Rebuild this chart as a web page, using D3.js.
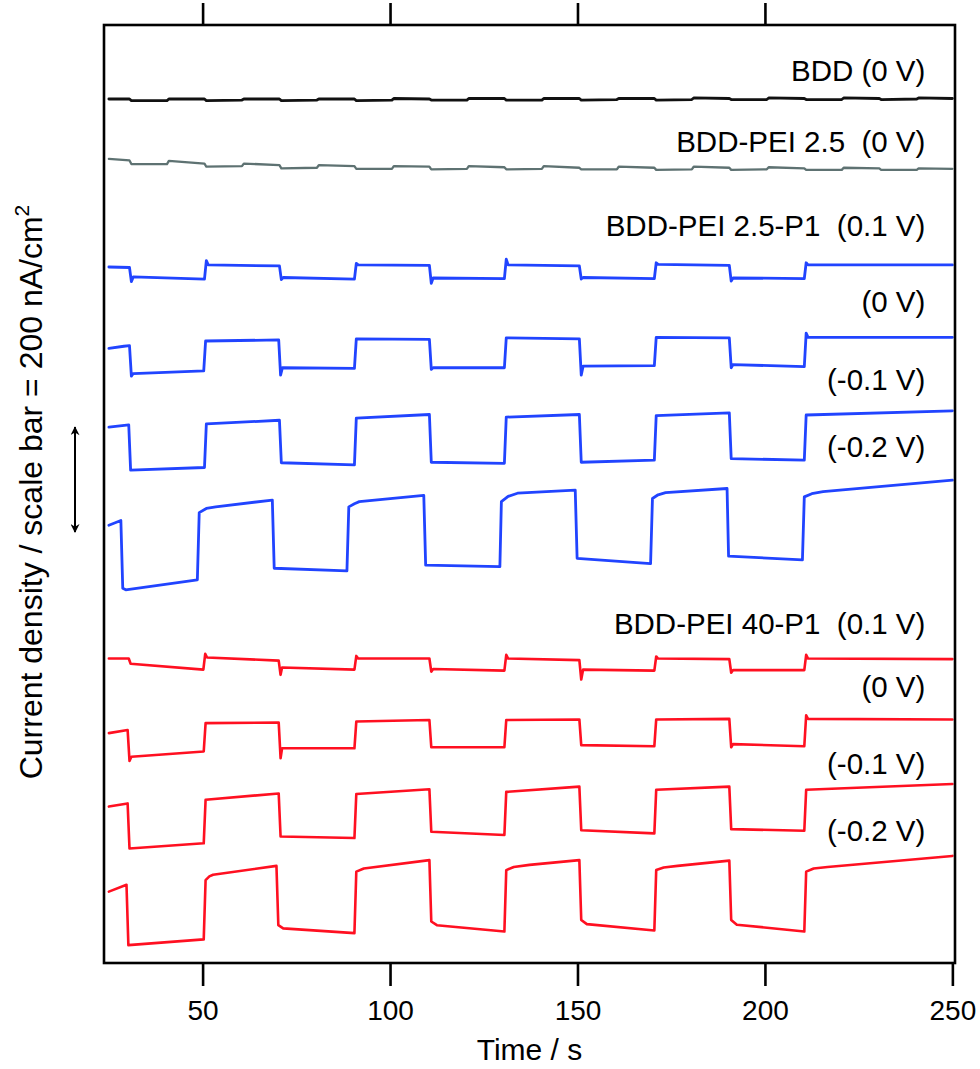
<!DOCTYPE html>
<html>
<head>
<meta charset="utf-8">
<script src="https://cdn.jsdelivr.net/npm/d3@7"></script>
<style>
  body { margin: 0; background: #fff; }
  text { font-family: "Liberation Sans", Arial, sans-serif; fill: #000; white-space: pre; }
  .line { fill: none; stroke-linejoin: round; stroke-linecap: round; }
</style>
</head>
<body>
<div class="container"></div>
<script>
// time axis ticks (s)
var xTicks = [50, 100, 150, 200, 250];
var topTicks = [50, 100, 150, 200];

// traces: [time (s), current density incl. stacking offset (nA/cm2)]
var bdd0 = [[25,1646],[30.5,1646],[31,1643],[40.5,1643],[41,1646],[50.5,1646],[51,1643],[60.5,1644],[61,1646],[70.5,1646],[71,1643],[80.5,1644],[81,1646],[90.5,1646],[91,1643],[100.5,1644],[101,1647],[110.5,1646],[111,1644],[120.5,1644],[121,1647],[130.5,1647],[131,1644],[140.5,1644],[141,1647],[150.5,1647],[151,1644],[160.5,1645],[161,1647],[170.5,1647],[171,1644],[180.5,1645],[181,1648],[190.5,1647],[191,1645],[200.5,1645],[201,1648],[210.5,1647],[211,1645],[220.5,1645],[221,1648],[230.5,1647],[231,1645],[240.5,1646],[241,1648],[250,1647]];

var pei25_0 = [[25,1532],[30.5,1529],[31,1522],[40.5,1522],[41,1528],[50.5,1523],[51,1517],[60.5,1518],[61,1523],[70.5,1520],[71,1514],[80.5,1515],[81,1520],[90.5,1518],[91,1513],[100.5,1513],[101,1518],[110.5,1517],[111,1512],[120.5,1513],[121,1518],[130.5,1516],[131,1512],[140.5,1513],[141,1518],[150.5,1515],[151,1512],[160.5,1512],[161,1517],[170.5,1515],[171,1511],[180.5,1512],[181,1517],[190.5,1515],[191,1511],[200.5,1512],[201,1516],[210.5,1514],[211,1511],[220.5,1511],[221,1515],[230.5,1514],[231,1511],[240.5,1511],[241,1514],[250,1513]];

var p25_01 = [[25,1326],[30.5,1325],[31,1298],[31.5,1307],[50.5,1303],[51,1338],[51.5,1330],[70.5,1328],[71,1302],[71.5,1306],[90.5,1303],[91,1333],[91.5,1330],[110.5,1329],[111,1295],[111.5,1305],[130.5,1304],[131,1341],[131.5,1330],[150.5,1328],[151,1303],[151.5,1306],[170.5,1304],[171,1334],[171.5,1331],[190.5,1329],[191,1299],[191.5,1305],[210.5,1304],[211,1334],[211.5,1330],[250,1330]];

var p25_0 = [[25,1171],[29,1175],[30.5,1176],[31,1118],[31.5,1123],[50.3,1128],[50.8,1185],[70.3,1187],[70.8,1120],[71.3,1134],[90.5,1133],[91,1189],[110.5,1188],[111,1131],[111.5,1134],[130.5,1134],[131,1191],[150.5,1189],[151,1120],[151.5,1137],[170.5,1138],[171,1192],[190.5,1191],[191,1134],[191.5,1140],[210.5,1136],[211,1200],[211.5,1192],[250,1192]];

var p25_m01 = [[25,1021],[30.3,1025],[30.8,939],[50.5,944],[51,1027],[70.5,1034],[71,953],[90.5,949],[91,1038],[110.5,1045],[111,954],[130.5,952],[131,1040],[150.5,1045],[151,954],[170.5,958],[171,1043],[190.5,1048],[191,961],[210.5,958],[211,1044],[250,1052]];

var p25_m02 = [[25,834],[28.2,843],[28.7,714],[29.5,711],[48.6,730],[49.1,858],[51,866],[53.5,869],[68.6,882],[69.1,752],[88.5,747],[89,869],[90.5,875],[91.8,879],[109,891],[109.5,758],[129.3,755],[129.7,879],[131.5,889],[134,895],[149.4,901],[149.9,771],[169.5,761],[170,885],[171.5,892],[173.5,896],[189.9,904],[190.3,775],[210,768],[210.5,888],[212.5,894],[215.5,898],[250,920]];

var p40_01 = [[25,580],[30.3,580],[30.8,570],[50.2,559],[50.7,589],[51.2,582],[70.3,576],[70.8,549],[71.2,563],[90.5,559],[91,585],[91.5,580],[110.5,580],[111,555],[111.5,560],[130.5,557],[131,587],[131.5,580],[150.5,577],[151,540],[151.5,559],[170.5,557],[171,584],[171.5,580],[190.5,579],[191,553],[191.5,558],[210.5,558],[211,587],[211.5,580],[250,579]];

var p40_0 = [[25,438],[30,444],[30.5,385],[31,393],[50.3,403],[50.8,457],[70.3,458],[70.8,390],[71.2,409],[90.5,409],[91,460],[110.5,463],[111,411],[130.5,411],[131,463],[150.5,464],[151,415],[170.5,413],[171,464],[190.5,465],[191,411],[191.5,417],[210.5,413],[211,472],[211.5,465],[250,464]];

var p40_m01 = [[25,298],[30,304],[30.5,218],[50.3,228],[50.8,311],[70.3,323],[70.8,241],[90.5,238],[91,322],[110.5,331],[111,250],[130.5,244],[131,326],[150.5,336],[151,253],[170.5,247],[171,330],[190.5,336],[191,255],[210.5,252],[211,330],[250,341]];

var p40_m02 = [[25,136],[29.7,149],[30.2,34],[50.3,45],[50.8,158],[51.8,165],[52.8,168],[69.7,185],[70.2,72],[71.5,66],[90.5,57],[91,174],[93,180],[110.5,196],[111,79],[112.5,72],[130.5,60],[131,177],[133,183],[137.2,187],[150.5,196],[151,82],[152.5,74],[170.5,62],[171,177],[173,182],[176.7,185],[190.5,195],[191,82],[192.5,73],[210.5,60],[211,174],[213,180],[216.7,183],[250,204]];

// trace labels and the level (nA/cm2) of their baseline
var labelText = ["BDD (0 V)", "BDD-PEI 2.5  (0 V)", "BDD-PEI 2.5-P1  (0.1 V)", "(0 V)", "(-0.1 V)", "(-0.2 V)",
                 "BDD-PEI 40-P1  (0.1 V)", "(0 V)", "(-0.1 V)", "(-0.2 V)"];
var labelLevel = [1680, 1545, 1385, 1240, 1092, 964, 627, 507, 360, 232];

var scaleBarBase = 821;   // nA/cm2
var scaleBarSize = 200;   // nA/cm2

var width = 980, height = 1069;

var x = d3.scaleLinear().domain([23.7, 250.7]).range([104, 955]);
var y = d3.scaleLinear().domain([0, 1787]).range([963, 25]);

var svg = d3.select(".container").append("svg")
    .attr("width", width)
    .attr("height", height);

var line = d3.line()
    .x(function(d) { return x(d[0]); })
    .y(function(d) { return y(d[1]); });

var traces = [
  {data: bdd0, color: "#111111", w: 2.8},
  {data: pei25_0, color: "#5e7272", w: 2.3},
  {data: p25_01, color: "#2144ff", w: 2.8},
  {data: p25_0, color: "#2144ff", w: 2.8},
  {data: p25_m01, color: "#2144ff", w: 2.8},
  {data: p25_m02, color: "#2144ff", w: 2.8},
  {data: p40_01, color: "#ff1021", w: 2.6},
  {data: p40_0, color: "#ff1021", w: 2.6},
  {data: p40_m01, color: "#ff1021", w: 2.6},
  {data: p40_m02, color: "#ff1021", w: 2.6}
];

svg.selectAll("path.line")
    .data(traces)
    .enter().append("path")
    .attr("class", "line")
    .attr("d", function(d) { return line(d.data); })
    .attr("stroke", function(d) { return d.color; })
    .attr("stroke-width", function(d) { return d.w; });

// frame
svg.append("rect")
    .attr("x", x.range()[0])
    .attr("y", y.range()[1])
    .attr("width", x.range()[1] - x.range()[0])
    .attr("height", y.range()[0] - y.range()[1])
    .attr("fill", "none")
    .attr("stroke", "#000")
    .attr("stroke-width", 2.6);

var bottom = svg.append("g")
    .attr("transform", "translate(0," + y.range()[0] + ")")
    .call(d3.axisBottom(x).tickValues(xTicks).tickSize(23).tickPadding(14).tickSizeOuter(0));
bottom.select(".domain").remove();
bottom.selectAll("line").attr("stroke-width", 2.6);
bottom.selectAll("text").style("font-size", "28px").attr("font-family", null);

var top_ = svg.append("g")
    .attr("transform", "translate(0," + y.range()[1] + ")")
    .call(d3.axisTop(x).tickValues(topTicks).tickSize(22).tickFormat(""));
top_.select(".domain").remove();
top_.selectAll("line").attr("stroke-width", 2.6);

// trace labels
svg.selectAll("text.lab")
    .data(labelText)
    .enter().append("text")
    .attr("class", "lab")
    .attr("x", x(242.8))
    .attr("y", function(d, i) { return y(labelLevel[i]); })
    .attr("text-anchor", "end")
    .attr("xml:space", "preserve")
    .style("font-size", "29.5px")
    .text(function(d) { return d; });

// axis titles
svg.append("text")
    .attr("x", (x.range()[0] + x.range()[1]) / 2)
    .attr("y", 1060)
    .attr("text-anchor", "middle")
    .style("font-size", "30px")
    .text("Time / s");

var yl = svg.append("text")
    .attr("transform", "translate(42," + 492 + ") rotate(-90)")
    .attr("text-anchor", "middle")
    .style("font-size", "32px");
yl.append("tspan").text("Current density / scale bar = 200 nA/cm");
yl.append("tspan").attr("dy", "-0.6em").style("font-size", "21px").text("2");

// scale bar
var defs = svg.append("defs");
defs.append("marker")
    .attr("id", "head")
    .attr("viewBox", "0 0 10 10")
    .attr("refX", 9).attr("refY", 5)
    .attr("markerWidth", 6).attr("markerHeight", 4.5)
    .attr("orient", "auto-start-reverse")
    .append("path")
    .attr("d", "M0,0 L10,5 L0,10 L3,5 Z")
    .attr("fill", "#000");

svg.append("line")
    .attr("x1", 75).attr("x2", 75)
    .attr("y1", y(scaleBarBase))
    .attr("y2", y(scaleBarBase + scaleBarSize))
    .attr("stroke", "#000")
    .attr("stroke-width", 2)
    .attr("marker-start", "url(#head)")
    .attr("marker-end", "url(#head)");
</script>
</body>
</html>
